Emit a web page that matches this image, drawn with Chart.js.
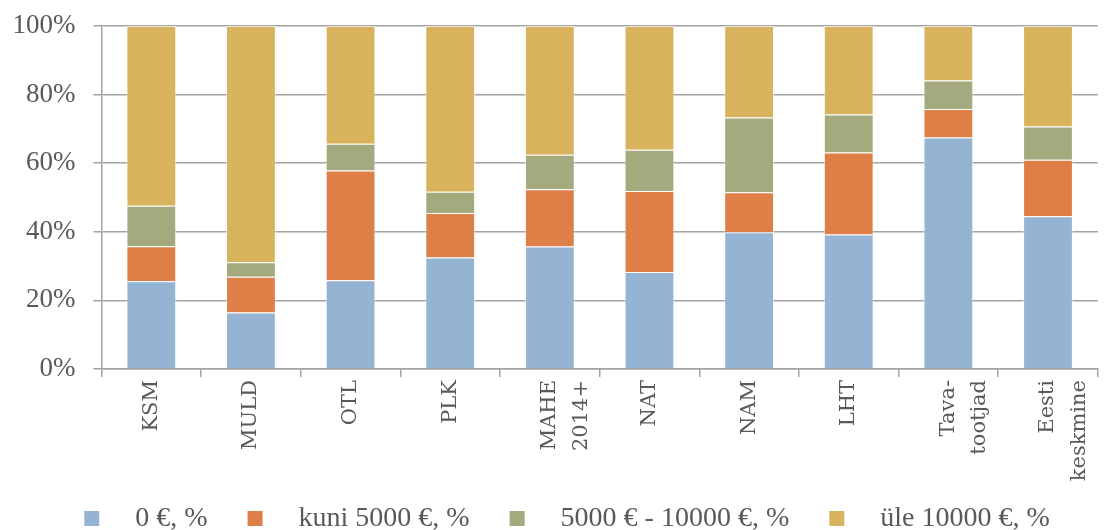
<!DOCTYPE html>
<html lang="et">
<head>
<meta charset="utf-8">
<title>Toetuse jaotus</title>
<script src="https://cdn.jsdelivr.net/npm/chart.js@4/dist/chart.umd.min.js"></script>
<style>
  html, body { margin: 0; padding: 0; background: #ffffff; overflow: hidden; }
  #wrap { width: 1114px; height: 530px; }
</style>
</head>
<body>
<div id="wrap"><canvas id="c" width="1114" height="530"></canvas></div>
<script>
// Categories (multi-line where the label wraps)
const categories = [
  'KSM', 'MULD', 'OTL', 'PLK', ['MAHE', '2014+'], 'NAT', 'NAM', 'LHT',
  ['Tava-', 'tootjad'], ['Eesti', 'keskmine']
];

// Shares of producers per support group, %
const share0 =        [25.6, 16.5, 25.9, 32.5, 35.7, 28.3, 39.9, 39.2, 67.5, 44.5];
const shareTo5000 =   [10.2, 10.4, 32.0, 13.0, 16.7, 23.6, 11.6, 23.9,  8.3, 16.5];
const share5to10k =   [11.8,  4.2,  7.8,  6.2, 10.1, 12.0, 21.8, 11.1,  8.3,  9.7];
const shareOver10k =  [52.4, 68.9, 34.3, 48.3, 37.5, 36.1, 26.7, 25.8, 15.9, 29.3];

const seriesNames = ['0 €, %', 'kuni 5000 €, %', '5000 € - 10000 €, %', 'üle 10000 €, %'];
const yTicks = [0, 20, 40, 60, 80, 100];

const colors = ['#95b4d3', '#de7f48', '#a4a97e', '#d8b25c'];
const textColor = '#595959';
const gridColor = '#a3a3a3';

// Legend swatch: leading space, a small square, then space before the text
const SW_LEAD = 20, SW_BOX = 15, SW_GAP = 22;
function makeSwatch(color) {
  const cv = document.createElement('canvas');
  cv.width = SW_LEAD + SW_BOX + SW_GAP;
  cv.height = SW_BOX;
  const g = cv.getContext('2d');
  g.fillStyle = color;
  g.fillRect(SW_LEAD, 0, SW_BOX, SW_BOX);
  return cv;
}
const swatches = colors.map(makeSwatch);

const seriesData = [share0, shareTo5000, share5to10k, shareOver10k];
const datasets = seriesData.map((d, i) => ({
  label: seriesNames[i],
  data: d,
  backgroundColor: colors[i],
  borderColor: 'rgba(255,255,255,0.55)',
  borderWidth: 1,
  categoryPercentage: 1.0,
  barPercentage: 0.5
}));

new Chart(document.getElementById('c'), {
  type: 'bar',
  data: { labels: categories, datasets },
  options: {
    responsive: false,
    animation: false,
    devicePixelRatio: 1,
    layout: { padding: { top: 26, left: 0, right: 0, bottom: 0 } },
    plugins: {
      tooltip: { enabled: false },
      legend: {
        position: 'bottom',
        maxHeight: 45.5,
        labels: {
          usePointStyle: true,
          pointStyleWidth: SW_LEAD + SW_BOX + SW_GAP,
          padding: 20,
          color: textColor,
          font: { family: '"Liberation Serif", "Times New Roman", serif', size: 28 },
          generateLabels(chart) {
            const items = Chart.defaults.plugins.legend.labels.generateLabels(chart);
            items.forEach((it, i) => { it.pointStyle = swatches[i]; });
            return items;
          }
        }
      }
    },
    scales: {
      x: {
        stacked: true,
        afterFit(scale) { scale.height = 115.5; },
        grid: {
          drawOnChartArea: false,
          drawTicks: true,
          tickLength: 8,
          color: gridColor,
          lineWidth: 1.5
        },
        border: { color: gridColor, width: 1.5 },
        ticks: {
          autoSkip: false,
          minRotation: 90,
          maxRotation: 90,
          padding: 3,
          color: textColor,
          font: { family: '"DejaVu Serif", serif', size: 21, lineHeight: 1.5 }
        }
      },
      y: {
        stacked: true,
        min: yTicks[0],
        max: yTicks[yTicks.length - 1],
        afterFit(scale) {
          scale.width = 101.5;
          scale.paddingTop = 0;
          scale.paddingBottom = 0;
        },
        afterBuildTicks(scale) { scale.ticks = yTicks.map(v => ({ value: v })); },
        grid: {
          color: gridColor,
          lineWidth: 1.5,
          tickLength: 8,
          drawTicks: true
        },
        border: { color: gridColor, width: 1.5 },
        ticks: {
          padding: 18,
          color: textColor,
          font: { family: '"Liberation Serif", "Times New Roman", serif', size: 27 },
          callback: v => v + '%'
        }
      }
    }
  }
});
</script>
</body>
</html>
